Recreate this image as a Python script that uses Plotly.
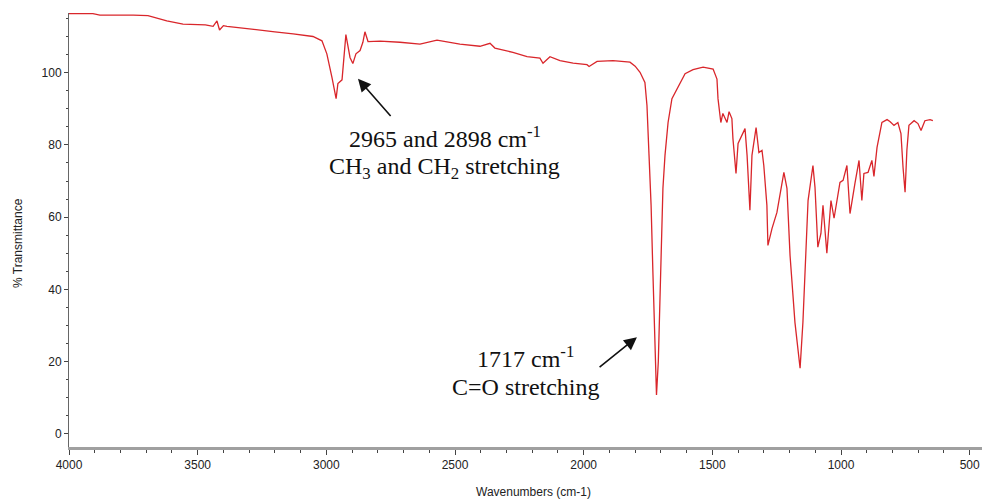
import plotly.graph_objects as go

wavenumber = [4000, 3992, 3907, 3880, 3800, 3750, 3693, 3658, 3620, 3557, 3520, 3470, 3440, 3425, 3415,
              3400, 3386, 3347, 3300, 3258, 3200, 3129, 3102, 3052, 3017, 2998, 2978, 2962, 2955, 2939,
              2924, 2908, 2897, 2885, 2869, 2858, 2850, 2838, 2791, 2741, 2714, 2636, 2570, 2481, 2403,
              2364, 2345, 2275, 2220, 2170, 2158, 2131, 2092, 2041, 1987, 1979, 1948, 1886, 1832, 1820,
              1800, 1781, 1762, 1754, 1746, 1738, 1731, 1723, 1717, 1710, 1700, 1692, 1684, 1672, 1657,
              1637, 1606, 1575, 1536, 1497, 1482, 1478, 1467, 1459, 1451, 1443, 1435, 1424, 1420, 1408,
              1400, 1373, 1365, 1354, 1346, 1330, 1319, 1307, 1300, 1288, 1284, 1268, 1249, 1237, 1222,
              1210, 1198, 1179, 1159, 1148, 1136, 1128, 1109, 1101, 1090, 1078, 1070, 1055, 1039, 1027,
              1004, 992, 977, 965, 946, 930, 919, 911, 895, 880, 872, 860, 841, 821, 810,
              794, 779, 767, 759, 751, 744, 736, 716, 701, 689, 674, 654, 643]
transmittance = [116.3, 116.3, 116.3, 115.9, 116.0, 115.9, 115.8, 115.0, 114.3, 113.4, 113.3, 113.2, 112.8, 114.3, 111.8,
                 113.0, 112.8, 112.5, 112.2, 111.9, 111.3, 110.7, 110.4, 110.0, 108.8, 105.2, 98.6, 92.8, 97.0, 98.0,
                 110.5, 104.2, 102.5, 105.2, 106.1, 108.4, 111.3, 108.6, 108.7, 108.6, 108.4, 107.9, 109.0, 107.9, 107.3,
                 108.1, 106.8, 105.6, 104.4, 104.0, 102.6, 104.4, 103.3, 102.6, 102.2, 101.7, 103.1, 103.3, 103.1, 102.9,
                 101.8, 100.1, 97.3, 90.9, 77.1, 63.3, 44.8, 26.5, 10.8, 20.0, 44.8, 68.0, 77.1, 86.2, 92.8,
                 95.6, 99.7, 100.8, 101.5, 101.0, 98.2, 92.8, 86.2, 88.7, 87.6, 86.2, 89.2, 87.3, 81.8, 72.1,
                 80.4, 84.5, 77.1, 61.9, 77.1, 84.8, 77.9, 78.5, 74.3, 63.3, 52.2, 56.9, 61.3, 66.0, 72.4,
                 68.0, 49.4, 30.9, 18.2, 30.9, 49.4, 64.6, 74.3, 68.2, 51.7, 55.5, 63.3, 50.0, 64.6, 59.7,
                 69.6, 70.2, 74.3, 61.0, 69.3, 75.7, 64.6, 72.1, 72.4, 75.7, 71.3, 79.3, 86.2, 87.0, 86.5,
                 85.4, 86.2, 83.1, 73.8, 66.9, 78.5, 85.4, 86.7, 85.9, 84.0, 86.7, 87.0, 86.7]

x_ticks = [4000, 3500, 3000, 2500, 2000, 1500, 1000, 500]
y_ticks = [0, 20, 40, 60, 80, 100]

tick_font = dict(family="Liberation Sans Narrow, Liberation Sans, Arial, sans-serif",
                 size=12, color="#222")
serif = dict(family="Liberation Serif, Times New Roman, serif", size=24, color="#111")

fig = go.Figure()
fig.add_trace(go.Scatter(x=wavenumber, y=transmittance, mode="lines",
                         line=dict(color="#d9262b", width=1.3), showlegend=False))

fig.update_layout(
    width=990, height=500,
    margin=dict(l=61, r=8, t=5, b=61),
    paper_bgcolor="white", plot_bgcolor="white",
    xaxis=dict(range=[4000, 421], tickvals=x_ticks, ticktext=[str(v) for v in x_ticks],
               showgrid=False, zeroline=False, showline=True, linecolor="#a0a0a0", linewidth=3,
               ticks="outside", ticklen=5, tickcolor="#444", tickwidth=1, automargin=False,
               minor=dict(dtick=100, ticks="outside", ticklen=3, tickcolor="#444", tickwidth=1),
               tickfont=tick_font),
    yaxis=dict(range=[-3.6, 116.5], tickvals=y_ticks, showgrid=False, zeroline=False,
               showline=True, linecolor="#666", linewidth=1, automargin=False,
               ticks="outside", ticklen=4, tickcolor="#444", tickwidth=1,
               minor=dict(dtick=5, ticks="outside", ticklen=2, tickcolor="#444", tickwidth=1),
               tickfont=tick_font),
)

# axis titles
fig.add_annotation(xref="paper", yref="paper", x=0.504, y=0, yshift=-45, text="Wavenumbers (cm-1)",
                   showarrow=False, font=tick_font, xanchor="center", yanchor="middle")
fig.add_annotation(xref="paper", yref="paper", x=0, xshift=-51, y=0.47, text="% Transmittance",
                   textangle=-90, showarrow=False, font=tick_font, xanchor="center", yanchor="middle")

# arrows
fig.add_annotation(x=2877, y=98.3, ax=2745, ay=87.6, axref="x", ayref="y", text="",
                   showarrow=True, arrowhead=2, arrowsize=1.6, arrowwidth=1.6, arrowcolor="#111")
fig.add_annotation(x=1793, y=26.8, ax=1944, ay=18.2, axref="x", ayref="y", text="",
                   showarrow=True, arrowhead=2, arrowsize=1.6, arrowwidth=1.6, arrowcolor="#111")

# labels
fig.add_annotation(x=2540, y=82.3, text="2965 and 2898 cm<sup>-1</sup>", showarrow=False, font=serif,
                   xanchor="center", yanchor="middle")
fig.add_annotation(x=2540, y=73.7, text="CH<sub>3</sub> and CH<sub>2</sub> stretching", showarrow=False,
                   font=serif, xanchor="center", yanchor="middle")
fig.add_annotation(x=2225, y=21.3, text="1717 cm<sup>-1</sup>", showarrow=False, font=serif,
                   xanchor="center", yanchor="middle")
fig.add_annotation(x=2225, y=12.9, text="C=O stretching", showarrow=False, font=serif,
                   xanchor="center", yanchor="middle")

fig.write_html("out.html")
